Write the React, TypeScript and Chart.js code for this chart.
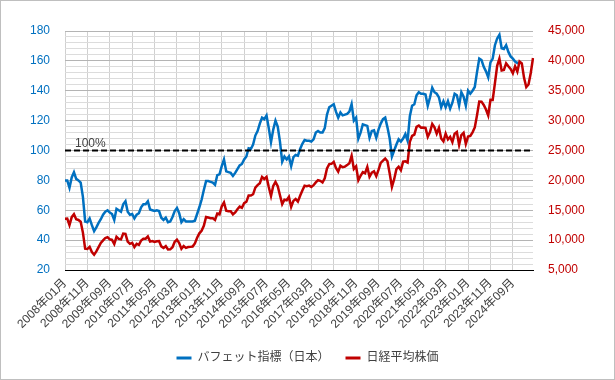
import React, { useEffect, useRef } from "react";
import { Chart, registerables } from "chart.js";

Chart.register(...registerables);

// Monthly categories 2008-01 .. 2025-06
const START_YEAR = 2008;
const MONTH_COUNT = 210;
const categories: string[] = Array.from({ length: MONTH_COUNT }, (_, i) => {
  const y = START_YEAR + Math.floor(i / 12);
  const m = (i % 12) + 1;
  return `${y}年${m < 10 ? "0" + m : m}月`;
});
const LABEL_EVERY = 10;

const seriesNames = ["バフェット指標（日本）", "日経平均株価"];

// Buffett indicator (Japan), %
const buffett: (number | null)[] = [
  80, 80, 75, 82, 85.5, 81, 80, 78.5, 69, 52.5, 52, 54.5, // 2008
  50, 46, 48.5, 51.5, 54, 57, 59, 60, 58.5, 57.5, 53.5, 61, // 2009
  60, 59, 64, 66, 59, 57, 57.5, 54.5, 57, 58, 62, 64, // 2010
  64, 66, 60.5, 60, 59.5, 60, 59.5, 55, 53.5, 55, 52, 52.5, // 2011
  55.5, 59.5, 61.5, 58, 52, 54, 52.5, 52.5, 52.5, 52.5, 53, 57.5, // 2012
  62, 67, 73.5, 79.5, 79.5, 79, 78.5, 77, 83.5, 84, 89.5, 94, // 2013
  86, 85.5, 85, 83, 85, 87.5, 90, 91, 94, 96, 101.5, 101, // 2014
  104, 110, 113, 118, 122, 121, 123.5, 115, 105.5, 114, 120, 116, // 2015
  106, 92.5, 96, 94, 96, 89.5, 95.5, 97, 96.5, 101, 104.5, 107, // 2016
  106.5, 106.5, 106, 107.5, 112, 113, 112, 112, 115, 124, 129, 130, // 2017
  131, 126, 122, 125.5, 123.5, 124, 124.5, 126, 131, 120, 122, 108, // 2018
  112, 117.5, 117, 116.5, 108.5, 113, 113.5, 108.5, 114, 118, 121, 122, // 2019
  115.5, 108, 96, 100, 104, 107.5, 106, 108, 111, 106.5, 123, 130, // 2020
  131, 137, 139, 138, 138, 137.5, 130, 135.5, 142, 139, 138, 135.5, // 2021
  129, 133, 129, 133, 128, 132, 138, 137, 130, 139, 136, 130, // 2022
  140, 138, 140, 142.5, 152.5, 161.5, 160.5, 156, 153, 149, 159, 161.5, // 2023
  170.5, 175, 177.5, 168.5, 168, 170.5, 166, 163, 161.5, 159.5, 158.5, 159, // 2024
  null, null, null, null, null, null, // 2025
];

// Nikkei 225, yen
const nikkei: number[] = [
  13592, 13603, 12525, 13849, 14338, 13481, 13376, 13072, 11259, 8576, 8512, 8859, // 2008
  7994, 7568, 8109, 8828, 9522, 9958, 10356, 10492, 10133, 10034, 9345, 10546, // 2009
  10198, 10126, 11089, 11057, 9768, 9382, 9537, 8824, 9369, 9202, 9937, 10228, // 2010
  10237, 10624, 9755, 9849, 9693, 9816, 9833, 8955, 8700, 8988, 8434, 8455, // 2011
  8802, 9723, 10083, 9520, 8543, 9007, 8695, 8840, 8870, 8928, 9446, 10395, // 2012
  11138, 11559, 12398, 13860, 13775, 13677, 13668, 13389, 14456, 14328, 15662, 16291, // 2013
  14915, 14841, 14828, 14304, 14632, 15162, 15621, 15425, 16174, 16414, 17460, 17451, // 2014
  17674, 18798, 19207, 19520, 20563, 20236, 20585, 18890, 17388, 19083, 19747, 19034, // 2015
  17518, 16027, 16759, 16666, 17235, 15576, 16569, 16887, 16450, 17425, 18308, 19114, // 2016
  19041, 19119, 18909, 19197, 19651, 20033, 19925, 19646, 20356, 22012, 22725, 22765, // 2017
  23098, 22068, 21454, 22468, 22202, 22305, 22554, 22865, 24120, 21920, 22351, 20015, // 2018
  20773, 21385, 21206, 22259, 20601, 21276, 21522, 20704, 21756, 22927, 23294, 23657, // 2019
  23205, 21143, 18917, 20194, 21878, 22288, 21710, 23140, 23185, 22977, 26434, 27444, // 2020
  27663, 28966, 29179, 28813, 28860, 28792, 27284, 28090, 29453, 28893, 27822, 28792, // 2021
  27002, 26527, 27821, 26848, 27280, 26393, 27802, 28092, 25937, 27587, 27969, 26095, // 2022
  27327, 27446, 28041, 28856, 30888, 33189, 33172, 32619, 31858, 30859, 33487, 33464, // 2023
  36287, 39166, 40369, 38406, 38488, 39583, 39102, 38648, 37920, 39081, 38208, 39895, // 2024
  39572, 37156, 35618, 36045, 37965, 40487, // 2025
];

const REF_VALUE = 100;
const REF_LABEL = "100%";

const LEFT_MIN = 20, LEFT_MAX = 180, LEFT_MAJOR = 20, LEFT_MINOR = 4;
const RIGHT_MIN = 5000, RIGHT_MAX = 45000, RIGHT_STEP = 5000;

const BLUE = "#0070C0";
const RED = "#C00000";
const TEXT = "#404040";
const FONT = "'Liberation Sans', 'Noto Sans CJK JP', sans-serif";

const refLinePlugin = {
  id: "refLine",
  afterDatasetsDraw(chart: any) {
    const { ctx, chartArea, scales } = chart;
    const y = scales.y.getPixelForValue(REF_VALUE);
    ctx.save();
    ctx.strokeStyle = "#000";
    ctx.lineWidth = 2;
    ctx.setLineDash([6, 3]);
    ctx.beginPath();
    ctx.moveTo(chartArea.left, y);
    ctx.lineTo(chartArea.right, y);
    ctx.stroke();
    ctx.setLineDash([]);
    ctx.fillStyle = TEXT;
    ctx.font = `12px ${FONT}`;
    ctx.textBaseline = "alphabetic";
    ctx.textAlign = "left";
    ctx.fillText(REF_LABEL, chartArea.left + 10, y - 4);
    ctx.restore();
  },
};

export default function App() {
  const canvasRef = useRef<HTMLCanvasElement | null>(null);

  useEffect(() => {
    if (!canvasRef.current) return;
    const chart = new Chart(canvasRef.current, {
      type: "line",
      data: {
        labels: categories,
        datasets: [
          {
            label: seriesNames[0],
            data: buffett,
            yAxisID: "y",
            borderColor: BLUE,
            backgroundColor: BLUE,
            borderWidth: 2.5,
            pointRadius: 0,
            tension: 0,
            order: 1,
          },
          {
            label: seriesNames[1],
            data: nikkei,
            yAxisID: "y1",
            borderColor: RED,
            backgroundColor: RED,
            borderWidth: 2.5,
            pointRadius: 0,
            tension: 0,
            order: 0,
          },
        ],
      },
      options: {
        responsive: false,
        animation: false,
        layout: { padding: { top: 30, left: 0, right: 0, bottom: 5 } },
        plugins: {
          tooltip: { enabled: false },
          legend: {
            position: "bottom",
            labels: {
              boxWidth: 15,
              boxHeight: 3,
              padding: 16,
              color: TEXT,
              font: { family: FONT, size: 12 },
              sort: (a: any, b: any) => a.datasetIndex - b.datasetIndex,
              generateLabels: (c: any) =>
                Chart.defaults.plugins.legend.labels
                  .generateLabels(c)
                  .map((l: any) => ({ ...l, lineWidth: 0 })),
            },
          },
        },
        scales: {
          x: {
            type: "category",
            offset: false,
            grid: { color: "#d0d0d0", lineWidth: 1, drawTicks: false },
            border: { display: true, color: "#000", width: 1 },
            ticks: {
              autoSkip: false,
              minRotation: 45,
              maxRotation: 45,
              padding: 6,
              color: TEXT,
              font: { family: FONT, size: 12 },
              callback: function (this: any, value: any, index: number) {
                return index % LABEL_EVERY === 0 ? categories[index] : null;
              },
            },
            afterFit: (s: any) => {
              s.height = 66;
            },
          },
          y: {
            position: "left",
            min: LEFT_MIN,
            max: LEFT_MAX,
            grid: {
              drawTicks: false,
              color: (ctx: any) =>
                ctx.tick && ctx.tick.value % LEFT_MAJOR === 0 ? "#b4b4b4" : "#dcdcdc",
            },
            border: { display: false },
            ticks: {
              stepSize: LEFT_MINOR,
              maxTicksLimit: 100,
              autoSkip: false,
              padding: 15,
              color: BLUE,
              font: { family: FONT, size: 12 },
              callback: (v: any) => (Number(v) % LEFT_MAJOR === 0 ? String(v) : ""),
            },
            afterFit: (s: any) => {
              s.width = 64;
            },
          },
          y1: {
            position: "right",
            min: RIGHT_MIN,
            max: RIGHT_MAX,
            grid: { drawOnChartArea: false, drawTicks: false },
            border: { display: false },
            ticks: {
              stepSize: RIGHT_STEP,
              padding: 15,
              color: RED,
              font: { family: FONT, size: 12 },
              callback: (v: any) => Number(v).toLocaleString("en-US"),
            },
            afterFit: (s: any) => {
              s.width = 81;
            },
          },
        },
      },
      plugins: [refLinePlugin],
    });
    return () => chart.destroy();
  }, []);

  return (
    <div
      style={{
        position: "fixed",
        left: 0,
        top: 0,
        width: 615,
        height: 380,
        boxSizing: "border-box",
        border: "1px solid #bfbfbf",
        background: "#fff",
      }}
    >
      <canvas ref={canvasRef} width={613} height={378} style={{ display: "block" }} />
    </div>
  );
}
